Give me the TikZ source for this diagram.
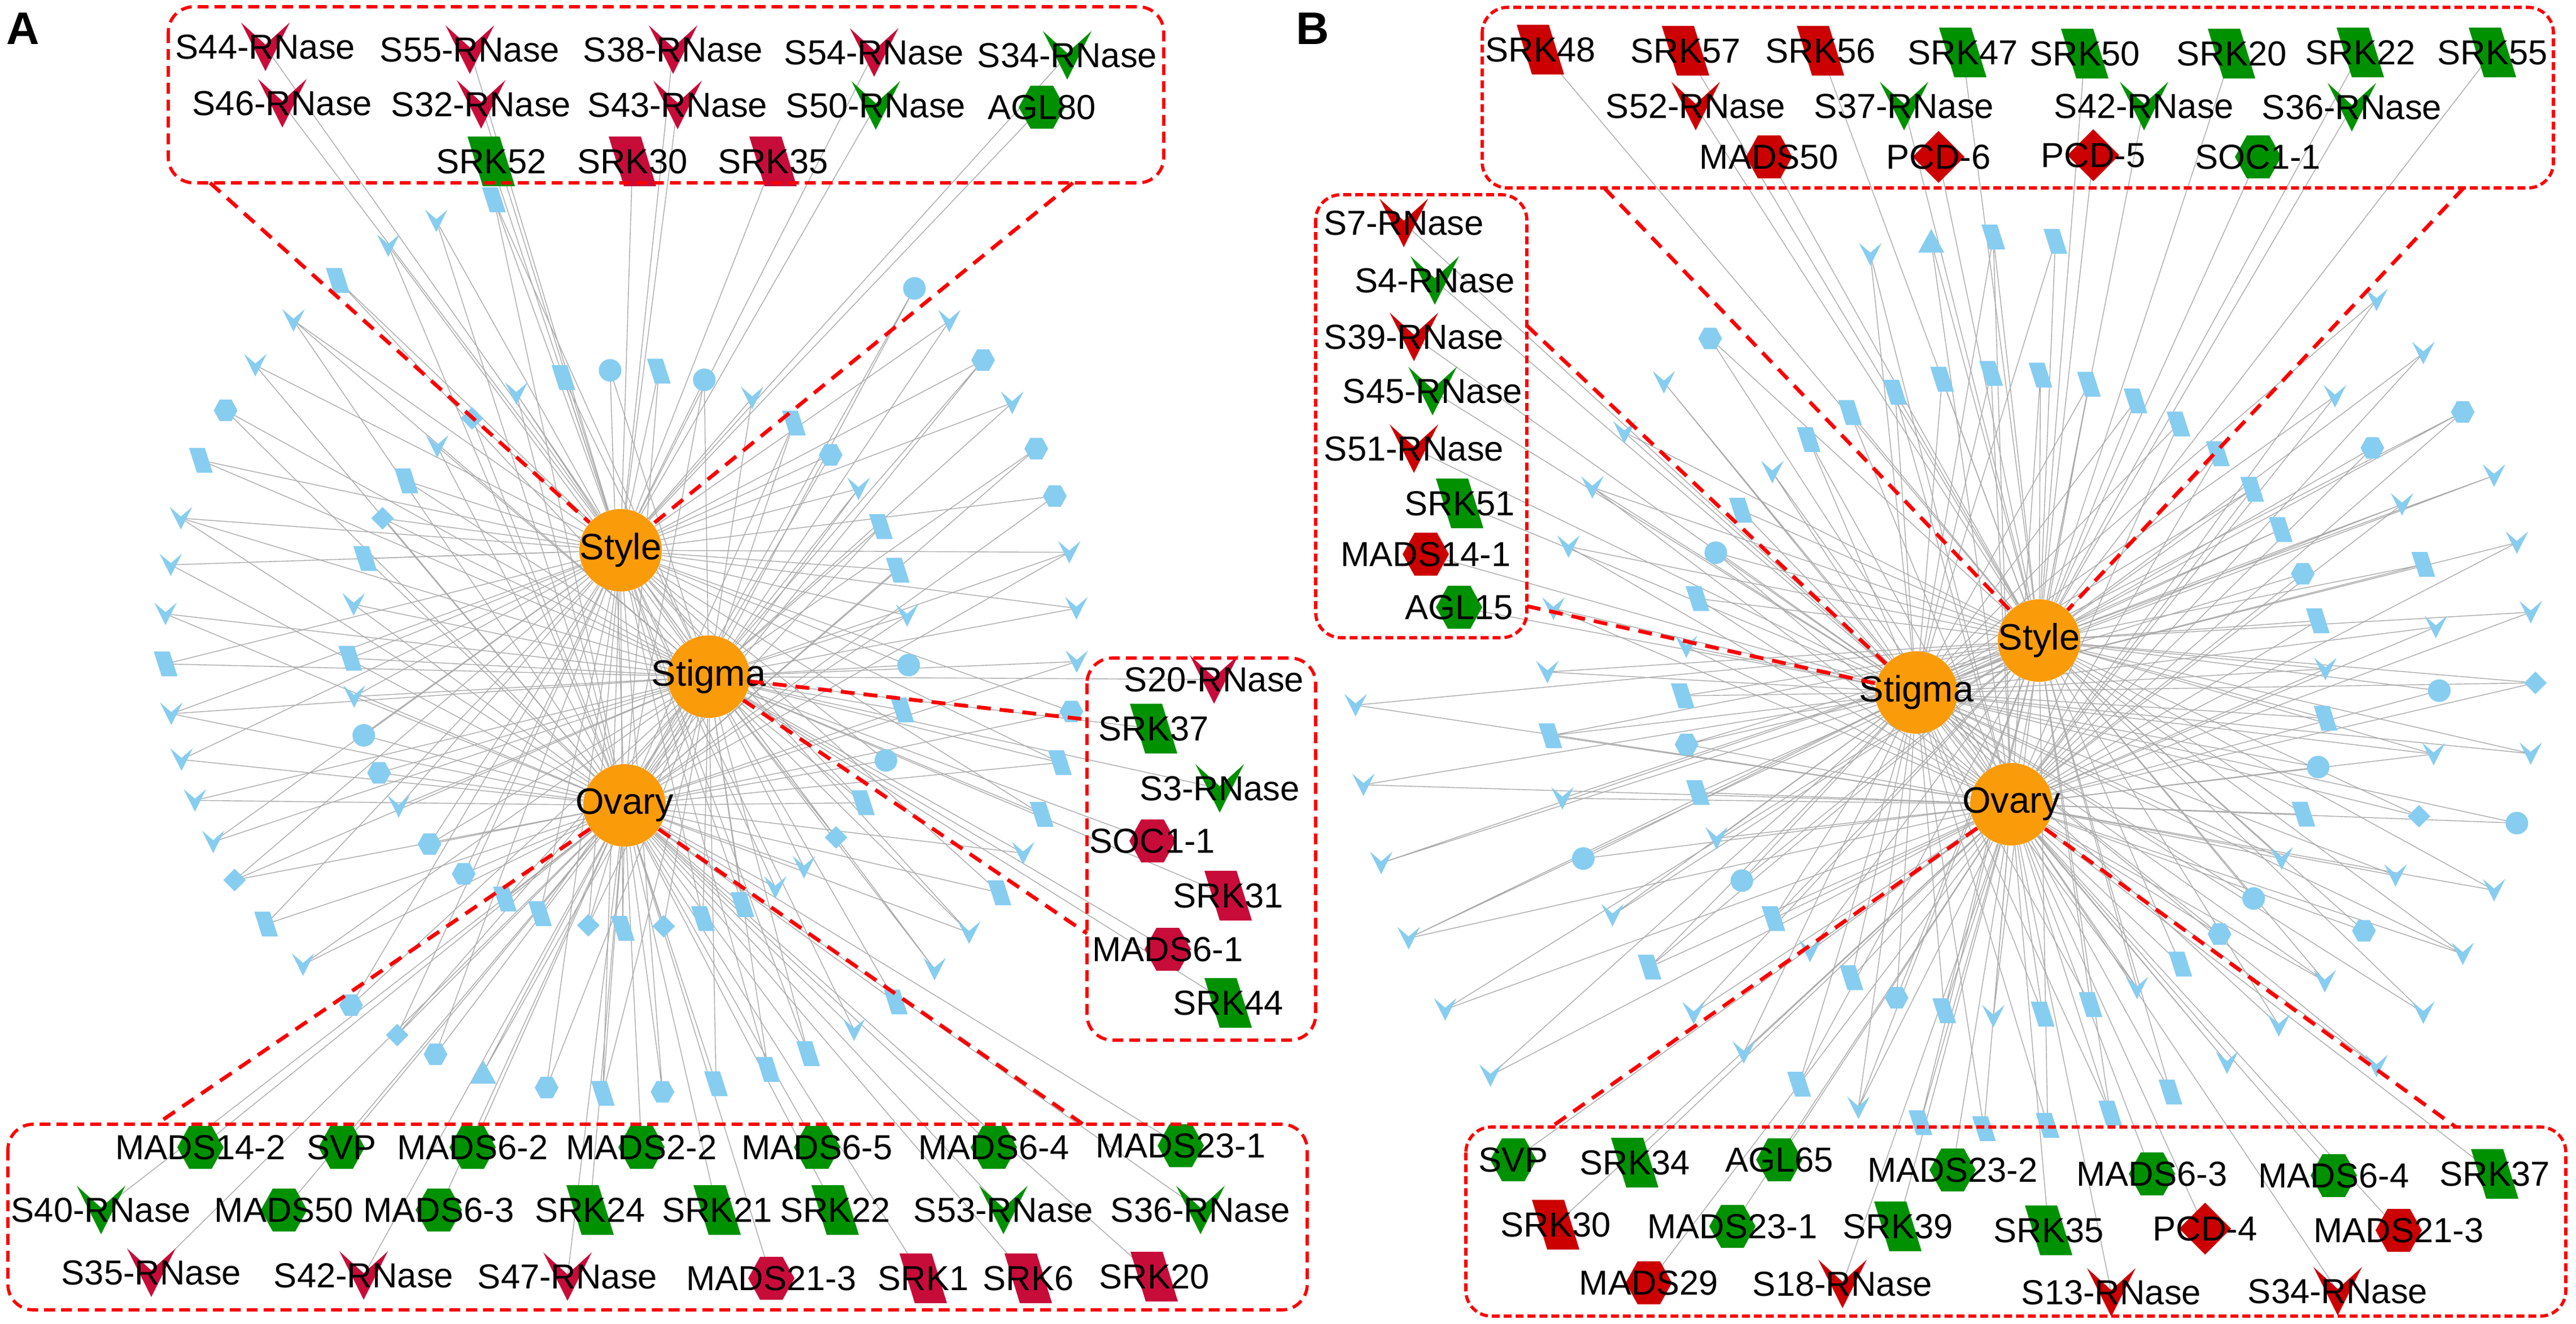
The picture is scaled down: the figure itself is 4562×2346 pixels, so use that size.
\documentclass[tikz,border=0pt]{standalone}
\usepackage{fontspec}
\setmainfont{Liberation Sans}
\usetikzlibrary{calc}
\definecolor{redA}{RGB}{200,12,58}
\definecolor{redB}{RGB}{204,0,0}
\definecolor{grn}{RGB}{0,145,0}
\definecolor{blu}{RGB}{135,205,240}
\definecolor{hubc}{RGB}{250,155,10}
\definecolor{hlred}{RGB}{250,0,0}
\definecolor{edgec}{RGB}{170,170,170}
\pgfdeclarelayer{bg}
\pgfdeclarelayer{toplayer}
\pgfsetlayers{bg,main,toplayer}

\newcommand\shpbV[1]{\fill[blu,shift={(#1)}] (-20,-20) -- (0,-3) -- (20,-20) -- (0,20) -- cycle;}
\newcommand\shpbP[1]{\fill[blu,shift={(#1)}] (-21,-22) -- (7,-22) -- (21,22) -- (-7,22) -- cycle;}
\newcommand\shpbH[1]{\fill[blu,shift={(#1)}] (-21,0) -- (-10.5,-19) -- (10.5,-19) -- (21,0) -- (10.5,19) -- (-10.5,19) -- cycle;}
\newcommand\shpbC[1]{\fill[blu] (#1) circle[radius=0.2cm];}
\newcommand\shpbD[1]{\fill[blu,shift={(#1)}] (-20,0) -- (0,-20) -- (20,0) -- (0,20) -- cycle;}
\newcommand\shpbT[1]{\fill[blu,shift={(#1)}] (0,-22) -- (23,20) -- (-23,20) -- cycle;}
\newcommand\shpgV[2]{\fill[#2,shift={(#1)}] (-43,-43) -- (0,-4) -- (43,-43) -- (0,43) -- cycle;}
\newcommand\shpgP[2]{\fill[#2,shift={(#1)}] (-42,-44) -- (15,-44) -- (42,44) -- (-15,44) -- cycle;}
\newcommand\shpgH[2]{\fill[#2,shift={(#1)}] (-41,0) -- (-20,-38) -- (20,-38) -- (41,0) -- (20,38) -- (-20,38) -- cycle;}
\newcommand\shpgD[2]{\fill[#2,shift={(#1)}] (-46,0) -- (0,-46) -- (46,0) -- (0,46) -- cycle;}

% pass 1: positions and edges of a ring of background nodes
\newcommand\ringedges[6]{%
 \foreach \a/\s [count=\k] in #5 {
  \coordinate (#1\k) at ($(#2,#3)+(\a:#4)$);
  \pgfmathtruncatemacro\m{mod(\k,4)}
  \ifcase\m \draw[edge] (#1\k) -- (Sty#6) (#1\k) -- (Sti#6);
  \or \draw[edge] (#1\k) -- (Sti#6) (#1\k) -- (Ova#6);
  \or \draw[edge] (#1\k) -- (Sty#6) (#1\k) -- (Ova#6);
  \else \draw[edge] (#1\k) -- (Sty#6) (#1\k) -- (Sti#6) (#1\k) -- (Ova#6);
  \fi
 }}
% pass 2: shapes of a ring
\newcommand\ringshapes[2]{%
 \foreach \a/\s [count=\k] in #2 {\csname shpb\s\endcsname{#1\k}}}

\def\lIA{-26/P,-16.4/P,-6.9/V,3.3/C,12.6/P,23.5/C,33.4/P,42.4/D,51.4/V,58.6/V,66.2/P,74.8/P,83/D,91.4/P,98.5/D,108.7/P,116.5/P,126.4/H,135.7/H,145.7/V,153.7/H,162/C,170.2/V,178.1/P,189.2/V,198.9/P,207.9/D,217/P,226.5/V,235.7/D,246.1/V,256.3/P,266/C,276/P,285.5/C,296/V,306/P,316/H,325/V}
\def\lMA{-50/C,-44/V,-37.5/H,-31/V,-24.5/H,-18.1/H,-10.8/V,-3.7/V,3/V,9.3/H,15.9/P,22.8/P,28.2/V,34/P,40.3/V,46.6/V,53/P,59.3/V,65.8/P,71.2/P,78/P,84.8/H,92.3/P,99.4/H,107.6/T,114/H,119.4/D,126.3/H,134.2/V,141.1/P,147.9/D,153.4/V,159.1/V,164.5/V,170.4/V,176.7/P,183/V,189.2/V,195.2/V,202.9/P,209.9/H,216.7/V,224.1/V,231.6/P,239.3/V,246.1/V,253.8/P}
\def\lIB{-127.5/P,-118.7/P,-109.9/P,-101.2/P,-92.4/P,-83.6/P,-74.8/P,-66/P,-57.3/P,-48.5/P,-39.7/P,-30.9/P,-22.1/H,-13.3/P,-4.6/V,4.2/P,13/C,21.8/P,30.6/V,39.3/C,48.1/H,56.9/P,65.7/V,74.5/P,83.2/P,92/V,100.8/P,109.6/H,118.4/P,127.2/V,135.9/P,144.7/C,153.5/V,162.3/P,171.1/H,179.8/P,188.6/V,197.4/P,206.2/C,215/P,223.8/V}
\def\lMB{-106/V,-98/T,-90/P,-82/P,-40/V,-31.8/H,-23.6/V,-15.4/P,-7.2/V,1/C,9.2/V,17.4/D,25.6/V,33.8/H,42/V,50.2/V,58.4/V,66.6/P,74.8/P,83/P,91.2/P,99.4/P,107.6/V,115.8/P,124/V,132.2/V,140.4/P,148.6/V,156.8/C,165/V,173.2/P,181.4/V,189.6/V,197.8/V,206/V,214.2/V,222.4/V,230.6/H}
\def\lOB{-45/V,-37.5/V,-30/H,-22.5/V,-15/V,-7.5/V,0/D,7.5/V,15/C,22.5/V,30/V,37.5/V,45/V}
\def\lOC{142/V,149.2/V,156.4/V,163.6/V,170.8/V,178/V}

\def\genes{%
a1/470/83/V/redA/S44-RNase/StyA,
a2/832/88/V/redA/S55-RNase/StyA,
a3/1192/88/V/redA/S38-RNase/StyA,
a4/1548/93/V/redA/S54-RNase/StyA,
a5/1890/98/V/grn/S34-RNase/StyA,
a6/500/183/V/redA/S46-RNase/StyA,
a7/852/185/V/redA/S32-RNase/StyA,
a8/1200/186/V/redA/S43-RNase/StyA,
a9/1551/187/V/grn/S50-RNase/StyA,
a10/1845/190/H/grn/AGL80/StyA,
a11/870/286/P/grn/SRK52/StyA,
a12/1120/286/P/redA/SRK30/StyA,
a13/1369/286/P/redA/SRK35/StyA,
a14/2150/1204/V/redA/S20-RNase/StiA,
a15/2043/1291/P/grn/SRK37/StiA,
a16/2160/1397/V/grn/S3-RNase/StiA,
a17/2041/1490/H/redA/SOC1-1/StiA,
a18/2175/1587/P/redA/SRK31/StiA,
a19/2068/1682/H/redA/MADS6-1/StiA,
a20/2175/1777/P/grn/SRK44/StiA,
a21/355/2033/H/grn/MADS14-2/OvaA,
a22/605/2033/H/grn/SVP/OvaA,
a23/837/2033/H/grn/MADS6-2/OvaA,
a24/1136/2033/H/grn/MADS2-2/OvaA,
a25/1447/2033/H/grn/MADS6-5/OvaA,
a26/1760/2033/H/grn/MADS6-4/OvaA,
a27/2091/2030/H/grn/MADS23-1/OvaA,
a28/179/2144/V/grn/S40-RNase/OvaA,
a29/503/2144/H/grn/MADS50/OvaA,
a30/777/2144/H/grn/MADS6-3/OvaA,
a31/1045/2144/P/grn/SRK24/OvaA,
a32/1270/2144/P/grn/SRK21/OvaA,
a33/1479/2144/P/grn/SRK22/OvaA,
a34/1777/2144/V/grn/S53-RNase/OvaA,
a35/2126/2144/V/grn/S36-RNase/OvaA,
a36/268/2255/V/redA/S35-RNase/OvaA,
a37/644/2260/V/redA/S42-RNase/OvaA,
a38/1005/2262/V/redA/S47-RNase/OvaA,
a39/1366/2265/H/redA/MADS21-3/OvaA,
a40/1635/2265/P/redA/SRK1/OvaA,
a41/1821/2265/P/redA/SRK6/OvaA,
a42/2044/2262/P/redA/SRK20/OvaA,
b1/2728/88/P/redB/SRK48/StyB,
b2/2985/90/P/redB/SRK57/StyB,
b3/3224/90/P/redB/SRK56/StyB,
b4/3476/93/P/grn/SRK47/StyB,
b5/3692/95/P/grn/SRK50/StyB,
b6/3952/95/P/grn/SRK20/StyB,
b7/4180/93/P/grn/SRK22/StyB,
b8/4414/93/P/grn/SRK55/StyB,
b9/3003/188/V/redB/S52-RNase/StyB,
b10/3372/188/V/grn/S37-RNase/StyB,
b11/3797/188/V/grn/S42-RNase/StyB,
b12/4165/190/V/grn/S36-RNase/StyB,
b13/3133/278/H/redB/MADS50/StyB,
b14/3433/278/D/redB/PCD-6/StyB,
b15/3707/275/D/redB/PCD-5/StyB,
b16/3999/278/H/grn/SOC1-1/StyB,
b17/2486/395/V/redB/S7-RNase/StiB,
b18/2541/497/V/grn/S4-RNase/StiB,
b19/2504/597/V/redB/S39-RNase/StiB,
b20/2537/693/V/grn/S45-RNase/StiB,
b21/2504/795/V/redB/S51-RNase/StiB,
b22/2585/892/P/grn/SRK51/StiB,
b23/2525/982/H/redB/MADS14-1/StiB,
b24/2584/1076/H/grn/AGL15/StiB,
b25/2680/2055/H/grn/SVP/OvaB,
b26/2895/2060/P/grn/SRK34/OvaB,
b27/3151/2055/H/grn/AGL65/OvaB,
b28/3458/2073/H/grn/MADS23-2/OvaB,
b29/3811/2080/H/grn/MADS6-3/OvaB,
b30/4133/2083/H/grn/MADS6-4/OvaB,
b31/4418/2080/P/grn/SRK37/OvaB,
b32/2755/2170/P/redB/SRK30/OvaB,
b33/3068/2173/H/grn/MADS23-1/OvaB,
b34/3361/2173/P/grn/SRK39/OvaB,
b35/3628/2180/P/grn/SRK35/OvaB,
b36/3905/2177/D/redB/PCD-4/OvaB,
b37/4248/2180/H/redB/MADS21-3/OvaB,
b38/2920/2273/H/redB/MADS29/OvaB,
b39/3263/2275/V/redB/S18-RNase/OvaB,
b40/3739/2290/V/redB/S13-RNase/OvaB,
b41/4140/2288/V/redB/S34-RNase/OvaB}

\tikzset{
 x=0.01cm, y=-0.01cm,
 edge/.style={draw=edgec, line width=0.4pt},
 hl/.style={draw=hlred, line width=1.9pt, dash pattern=on 7pt off 4.5pt},
 boxA/.style={draw=hlred, line width=1.6pt, dash pattern=on 5.5pt off 3pt, rounded corners=0.45cm},
 boxB/.style={draw=hlred, line width=1.6pt, dash pattern=on 4pt off 2pt, rounded corners=0.45cm},
 hub/.style={circle, fill=hubc, minimum size=1.46cm, inner sep=0pt},
 hublab/.style={font=\fontsize{18.5}{20}\selectfont, inner sep=0pt},
 glab/.style={font=\fontsize{17.5}{19}\selectfont, inner sep=0pt},
 panel/.style={font=\fontsize{23}{25}\selectfont\bfseries, inner sep=0pt},
}

\begin{document}
\begin{tikzpicture}
\useasboundingbox (0,0) rectangle (4562,2346);
\begin{pgfonlayer}{bg}\fill[white] (0,0) rectangle (4562,2346);\end{pgfonlayer}

\node[panel] (labA) at (41,51) {A};
\node[panel] (labB) at (2325,51) {B};

% hubs (top layer, so that edges pass beneath them)
\begin{pgfonlayer}{toplayer}
\node[hub] (StyA) at (1099,975) {};
\node[hub] (StiA) at (1255,1199) {};
\node[hub] (OvaA) at (1106,1427) {};
\node[hub] (StyB) at (3611,1135) {};
\node[hub] (StiB) at (3394,1227) {};
\node[hub] (OvaB) at (3562,1425) {};
\end{pgfonlayer}

% pass 1: node positions and all edges
\ringedges{ia}{1115}{1150}{495}{\lIA}{A}
\ringedges{ma}{1100}{1130}{808}{\lMA}{A}
\ringedges{ib}{3550}{1231}{570}{\lIB}{B}
\ringedges{mb}{3530}{1210}{790}{\lMB}{B}
\ringedges{ob}{3530}{1210}{960}{\lOB}{B}
\ringedges{oc}{3530}{1210}{1130}{\lOC}{B}
\foreach \n/\x/\y/\sh/\c/\t/\h in \genes {
  \coordinate (\n) at (\x,\y);
  \draw[edge] (\n) -- (\h);
}

% pass 2: shapes
\ringshapes{ia}{\lIA}
\ringshapes{ma}{\lMA}
\ringshapes{ib}{\lIB}
\ringshapes{mb}{\lMB}
\ringshapes{ob}{\lOB}
\ringshapes{oc}{\lOC}
\foreach \n/\x/\y/\sh/\c/\t/\h in \genes {
  \csname shpg\sh\endcsname{\n}{\c}
}
\foreach \n/\x/\y/\sh/\c/\t/\h in \genes {
  \node[glab] (\n-t) at (\n) {\t};
}

% hub labels, highlight boxes and dashed connectors
\begin{pgfonlayer}{toplayer}
\node[hublab] (StyA-t) at (StyA) {Style};
\node[hublab] (StiA-t) at (StiA) {Stigma};
\node[hublab] (OvaA-t) at (OvaA) {Ovary};
\node[hublab] (StyB-t) at (StyB) {Style};
\node[hublab] (StiB-t) at (StiB) {Stigma};
\node[hublab] (OvaB-t) at (OvaB) {Ovary};
\draw[boxA] (298,12) rectangle (2061,324);
\draw[boxA] (1925,1166) rectangle (2330,1843);
\draw[boxA] (14,1992) rectangle (2315,2321);
\draw[boxB] (2625,13) rectangle (4522,333);
\draw[boxB] (2330,345) rectangle (2704,1130);
\draw[boxB] (2596,1997) rectangle (4544,2332);
\coordinate (pA1) at (372,324);
\coordinate (pA2) at (1900,324);
\coordinate (pA3) at (1925,1275);
\coordinate (pA4) at (1925,1654);
\coordinate (pA5) at (277,1992);
\coordinate (pA6) at (1918,1992);
\coordinate (pB1) at (2841,333);
\coordinate (pB2) at (4363,333);
\coordinate (pB3) at (2704,577);
\coordinate (pB4) at (2704,1074);
\coordinate (pB5) at (2747,1997);
\coordinate (pB6) at (4349,1997);
\draw[hl] (pA1) -- (StyA);
\draw[hl] (pA2) -- (StyA);
\draw[hl] (StiA) -- (pA3);
\draw[hl] (StiA) -- (pA4);
\draw[hl] (OvaA) -- (pA5);
\draw[hl] (OvaA) -- (pA6);
\draw[hl] (pB1) -- (StyB);
\draw[hl] (pB2) -- (StyB);
\draw[hl] (pB3) -- (StiB);
\draw[hl] (pB4) -- (StiB);
\draw[hl] (OvaB) -- (pB5);
\draw[hl] (OvaB) -- (pB6);
\end{pgfonlayer}
\end{tikzpicture}
\end{document}
